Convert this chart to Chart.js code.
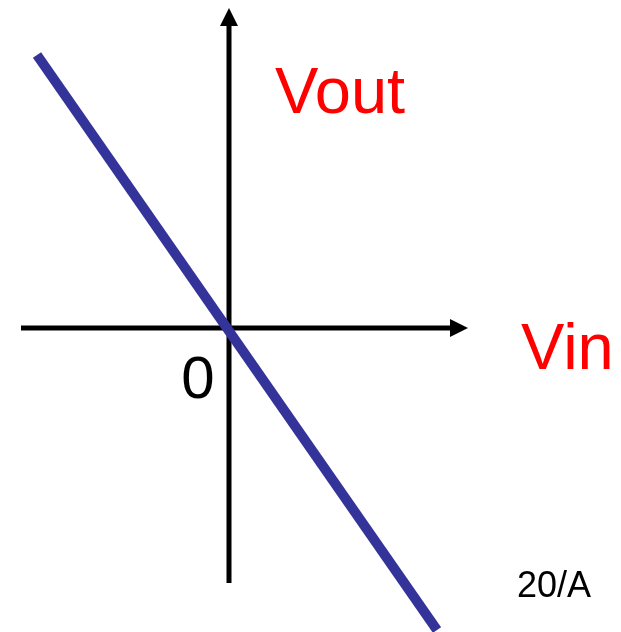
<!DOCTYPE html>
<html>
<head>
<meta charset="utf-8">
<script src="https://cdn.jsdelivr.net/npm/chart.js@4/dist/chart.umd.min.js"></script>
<style>
  html, body { margin: 0; padding: 0; background: #ffffff; }
  canvas { display: block; }
</style>
</head>
<body>
<canvas id="c" width="621" height="632"></canvas>
<script>
// Transfer line endpoints (Vin -> Vout), arbitrary units
const vin = [-4.8, 5.2];
const vout = [6.825, -7.55];
// Axis extents (arrow tips at the positive ends)
const xAxisExtent = [-5.2, 5.975];
const yAxisExtent = [-6.375, 8.0];
// Labels: text, x, y (data units)
const labelTexts = ['Vout', 'Vin', '0', '20/A'];
const labelX = [1.15, 7.3, -0.775, 7.2];
const labelY = [5.375, -1.025, -1.75, -6.725];

const axesPlugin = {
  id: 'axes',
  beforeDatasetsDraw(chart) {
    const ctx = chart.ctx, xs = chart.scales.x, ys = chart.scales.y;
    const x0 = xs.getPixelForValue(0), y0 = ys.getPixelForValue(0);
    const xl = xs.getPixelForValue(xAxisExtent[0]), xr = xs.getPixelForValue(xAxisExtent[1]);
    const yb = ys.getPixelForValue(yAxisExtent[0]), yt = ys.getPixelForValue(yAxisExtent[1]);
    ctx.save();
    ctx.strokeStyle = '#000'; ctx.fillStyle = '#000'; ctx.lineWidth = 5; ctx.lineCap = 'butt';
    // horizontal axis
    ctx.beginPath(); ctx.moveTo(xl, y0); ctx.lineTo(xr - 16, y0); ctx.stroke();
    ctx.beginPath(); ctx.moveTo(xr, y0); ctx.lineTo(xr - 18, y0 - 9); ctx.lineTo(xr - 18, y0 + 9); ctx.closePath(); ctx.fill();
    // vertical axis
    ctx.beginPath(); ctx.moveTo(x0, yb); ctx.lineTo(x0, yt + 16); ctx.stroke();
    ctx.beginPath(); ctx.moveTo(x0, yt); ctx.lineTo(x0 - 9, yt + 18); ctx.lineTo(x0 + 9, yt + 18); ctx.closePath(); ctx.fill();
    ctx.restore();
  },
  afterDatasetsDraw(chart) {
    const ctx = chart.ctx, xs = chart.scales.x, ys = chart.scales.y;
    ctx.save();
    ctx.textBaseline = 'alphabetic';
    const fonts = ['65px "Liberation Sans", Arial, sans-serif', '65px "Liberation Sans", Arial, sans-serif',
                   '60px "Liberation Sans", Arial, sans-serif', '36px "Liberation Sans", Arial, sans-serif'];
    const colors = ['#ff0000', '#ff0000', '#000000', '#000000'];
    const aligns = ['left', 'left', 'center', 'left'];
    labelTexts.forEach((t, i) => {
      ctx.font = fonts[i]; ctx.fillStyle = colors[i]; ctx.textAlign = aligns[i];
      ctx.fillText(t, xs.getPixelForValue(labelX[i]), ys.getPixelForValue(labelY[i]));
    });
    ctx.restore();
  }
};

new Chart(document.getElementById('c'), {
  type: 'scatter',
  data: {
    datasets: [{
      data: vin.map((v, i) => ({ x: v, y: vout[i] })),
      showLine: true,
      borderColor: '#333399',
      borderWidth: 10,
      borderCapStyle: 'butt',
      pointRadius: 0,
      fill: false
    }]
  },
  options: {
    responsive: false,
    animation: false,
    devicePixelRatio: 1,
    layout: { padding: 0 },
    plugins: { legend: { display: false }, tooltip: { enabled: false } },
    scales: {
      x: { type: 'linear', display: false, min: -5.725, max: 9.8 },
      y: { type: 'linear', display: false, min: -7.6, max: 8.2 }
    }
  },
  plugins: [axesPlugin]
});
</script>
</body>
</html>
